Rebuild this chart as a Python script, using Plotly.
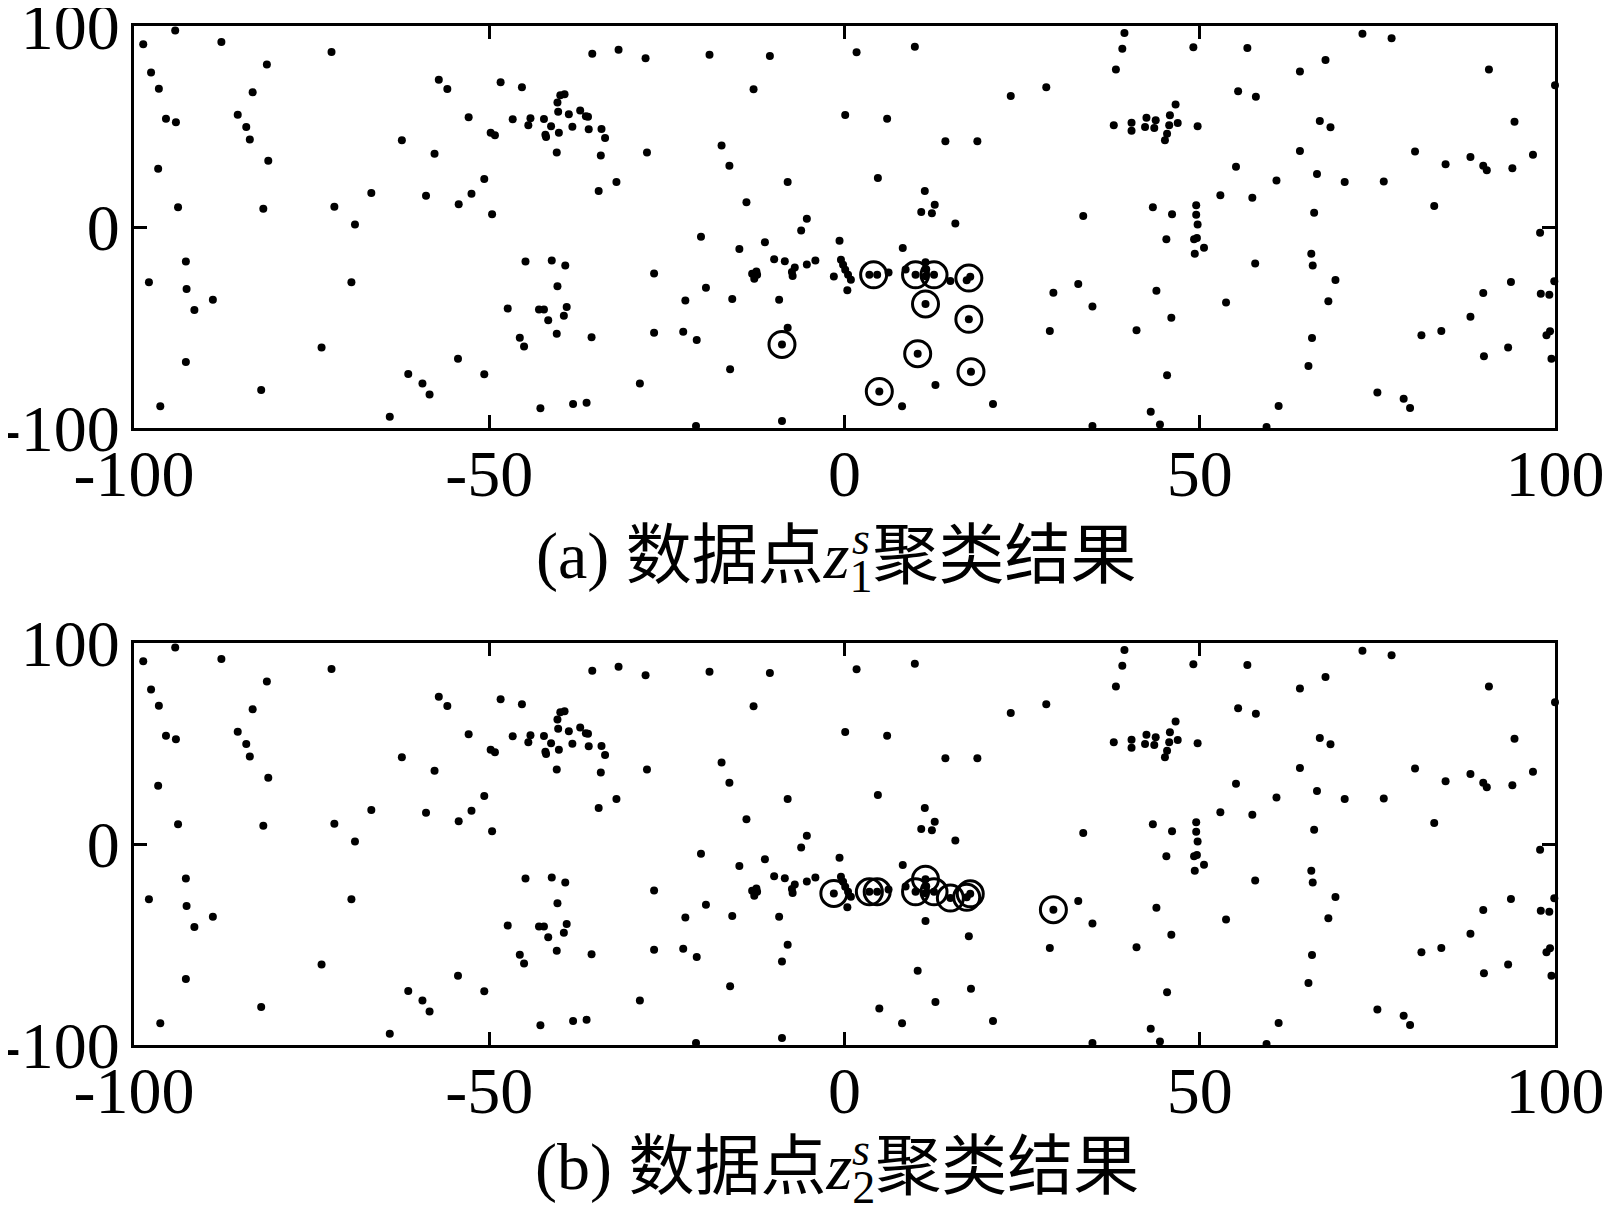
import plotly.graph_objects as go
from plotly.subplots import make_subplots

# ---- data points (same set in both panels) ----
pts_x = [
    -94.2, -98.7, -87.7, -72.2, -97.6, -81.3, -96.5, -83.3, -57.1, -55.9, -95.5, -94.1, -85.4, -84.2, -83.7,
    -62.3, -52.9, -57.7, -96.6, -81.1, -66.6, -58.9, -52.5, -54.3, -93.8, -81.8, -71.8, -68.9, -92.7, -97.9,
    -92.6, -88.9, -91.5, -69.4, -73.6, -92.7, -54.4, -61.4, -59.4, -58.4, -82.1, -96.3, -64.0,
    -50.7, -49.6, -49.8, -49.2, -48.4, -45.4, -35.5, -31.8, -28.0, -19.0, -10.5,
    -40.0, -39.4, -40.4, -40.3, -38.8, -37.2, -36.4, -36.1, -46.7, -44.2, -44.5, -42.3, -41.3, -42.1, -42.0,
    -40.2, -38.3, -36.0, -34.2, -33.7, -40.5, -34.3, -27.8, -32.1, -34.6,
    -12.8, -17.3, -16.2, -8.0, -13.8, -5.3, -6.1, -20.2, -11.2, -14.8, -0.7, -9.9, -8.4, -7.0, -7.4, -7.3,
    -5.3, -4.1, -13.0, -12.4, -12.7, -12.3, -0.5, -0.2, 0.1, 0.5, 0.9, -1.5, 0.4, -26.8, -19.5, -22.4,
    -15.8, -9.2, -44.9, -41.2, -39.3, -40.4, -47.4, -43.0, -42.3, -39.1, -39.5, -41.7, -40.5, -45.7, -45.1,
    -35.6, -26.8, -22.7, -20.8, -8.0, -8.8, -50.7, -16.1, -28.8, -42.8, -38.2, -36.3, -20.9, -8.8,
    1.7, 9.9, 39.4, 39.1, 49.1, 38.2, 28.4, 23.4, 0.1, 6.0, 14.2, 18.7,
    37.9, 40.4, 40.4, 42.5, 42.3, 43.8, 43.6, 45.8, 46.6, 46.9, 45.7, 45.4, 45.1, 49.7,
    4.7, 11.3, 12.7, 12.3, 10.8, 15.6, 33.6, 43.4, 46.1, 49.5, 49.5, 49.7, 45.3, 49.2, 49.6, 49.3, 8.2,
    3.5, 4.6, 6.2, 10.0, 12.6, 11.4, 11.5, 11.4, 8.6, 17.7, 17.2, 14.9, 11.4, 17.5, 10.3, 17.8, 4.9,
    12.8, 8.1, 20.9, 29.4, 32.9, 34.9, 28.9, 41.1, 43.9, 46.0, 45.4, 43.1, 44.4, 34.9,
    72.9, 77.0, 56.7, 67.7, 64.1, 90.7, 100.0, 55.4, 57.9, 66.9, 68.4, 94.3, 64.1, 80.3, 84.6, 88.1, 89.9,
    90.4, 94.0, 96.9, 55.1, 66.5, 60.8, 70.4, 75.9, 52.9, 57.4, 66.1, 83.0, 97.9, 50.6, 57.8, 65.7, 65.9,
    69.1, 68.1, 53.7, 93.8, 89.9, 98.0, 99.2, 99.9, 88.1, 84.0, 81.2, 98.8, 99.3, 93.4, 90.0, 99.5, 65.8,
    65.3, 75.0, 78.7, 79.6, 61.1, 59.4,
]
pts_y = [
    97.8, 90.9, 92.0, 87.1, 76.9, 80.9, 68.8, 67.0, 73.3, 68.7, 53.9, 52.1, 55.9, 49.8, 43.5,
    43.1, 54.6, 36.5, 29.0, 33.0, 16.9, 15.6, 16.6, 11.3, 9.8, 9.1, 10.1, 1.3, -17.2, -27.5,
    -30.8, -36.2, -41.3, -27.5, -59.9, -67.2, -65.5, -73.1, -77.9, -83.3, -81.1, -89.2, -94.4,
    23.9, 6.3, 46.9, 45.6, 72.0, 69.5, 86.2, 88.2, 83.9, 85.7, 85.1,
    65.5, 66.0, 61.9, 57.4, 56.1, 58.0, 55.1, 54.8, 53.6, 54.1, 50.6, 53.7, 50.1, 45.9, 44.8,
    46.9, 49.9, 48.6, 48.8, 44.3, 37.1, 35.6, 37.1, 22.4, 17.9,
    68.5, 40.6, 30.5, 22.4, 12.3, 4.1, -1.8, -4.8, -7.6, -10.9, -6.8, -16.1, -17.1, -20.2, -22.4, -24.4,
    -18.7, -16.7, -23.2, -22.1, -25.7, -23.7, -16.3, -18.8, -21.3, -23.8, -26.3, -24.6, -31.5, -23.1, -30.2, -36.6,
    -35.8, -36.2, -17.2, -16.7, -19.2, -29.5, -40.6, -41.1, -41.0, -39.8, -44.1, -46.4, -53.1, -55.1, -59.4,
    -54.9, -52.6, -52.1, -56.2, -50.1, -58.4, -73.3, -70.8, -77.9, -90.2, -88.1, -87.4, -99.0, -96.5,
    86.9, 89.7, 96.5, 88.7, 89.4, 78.4, 69.5, 65.2, 55.7, 53.9, 42.6, 42.6,
    50.6, 51.9, 47.9, 54.4, 49.8, 53.1, 49.3, 55.6, 60.9, 51.7, 50.6, 46.4, 43.1, 50.1,
    24.4, 17.9, 11.1, 6.8, 7.5, 1.7, 5.5, 9.8, 6.3, 10.8, 6.1, 1.2, -6.1, -6.1, -5.5, -13.3, -10.4,
    -23.8, -23.8, -22.6, -23.8, -23.8, -17.5, -21.0, -24.5, -21.2, -24.8, -26.5, -26.9, -38.3, -45.9, -63.0, -72.0, -81.8,
    -78.6, -89.2, -88.1, -32.7, -28.4, -39.6, -51.7, -51.4, -31.7, -45.1, -73.8, -91.9, -98.3, -99.0,
    96.2, 93.9, 89.1, 83.1, 77.4, 78.3, 70.5, 67.5, 64.8, 52.7, 49.6, 52.4, 37.8, 37.6, 31.2, 34.8, 30.5,
    28.2, 29.2, 36.0, 30.0, 26.4, 23.1, 22.4, 22.6, 15.8, 14.6, 7.1, 10.4, -2.8, -10.3, -18.1, -13.3, -19.1,
    -26.4, -37.0, -37.6, -27.4, -32.8, -33.2, -33.7, -27.0, -44.6, -51.7, -53.9, -53.9, -51.9, -60.0, -64.3, -65.5, -55.2,
    -69.2, -82.4, -85.4, -90.0, -89.1, -99.5,
]

# ---- clustered (circled) points ----
circ1_x = [-8.8, 4.1, 10.0, 12.6, 17.5, 11.4, 17.5, 10.3, 17.8, 4.9]
circ1_y = [-58.4, -23.8, -23.8, -23.8, -25.4, -38.3, -45.9, -63.0, -72.0, -81.8]
circ2_x = [-1.5, 3.5, 4.6, 10.0, 11.4, 12.6, 14.9, 17.2, 17.7, 29.4]
circ2_y = [-24.6, -23.8, -23.8, -23.8, -17.5, -23.8, -26.9, -26.5, -24.8, -32.7]

x_ticks = [-100, -50, 0, 50, 100]
x_tick_text = ["-100", "-50", "0", "50", "100"]
y_ticks = [-100, 0, 100]
y_tick_text = ["-100", "0", "100"]

captions = ["(a) 数据点<i>z</i><sub>1</sub>聚类结果",
            "(b) 数据点<i>z</i><sub>2</sub>聚类结果"]
caption_sup = "<i>s</i>"

FONT = "Liberation Serif, Times New Roman, Noto Sans CJK SC, serif"

fig = make_subplots(rows=2, cols=1, vertical_spacing=0.0)

for r, (cx, cy) in enumerate([(circ1_x, circ1_y), (circ2_x, circ2_y)], start=1):
    fig.add_trace(go.Scatter(x=pts_x, y=pts_y, mode="markers",
                             marker=dict(size=8, color="black"),
                             cliponaxis=False, showlegend=False), row=r, col=1)
    fig.add_trace(go.Scatter(x=cx, y=cy, mode="markers",
                             marker=dict(size=26, symbol="circle-open", color="black",
                                         line=dict(width=3, color="black")),
                             cliponaxis=False, showlegend=False), row=r, col=1)

axis_common = dict(showline=True, linecolor="black", linewidth=3, mirror="ticks",
                   ticks="inside", ticklen=13, tickwidth=3, tickcolor="black",
                   showgrid=False, zeroline=False, automargin=False,
                   ticklabeloverflow="allow",
                   tickfont=dict(family=FONT, size=66, color="black"))

fig.update_xaxes(range=[-100, 100], tickvals=x_ticks, ticktext=x_tick_text,
                 ticklabelstandoff=-14, **axis_common)
fig.update_yaxes(range=[-100, 100], tickvals=y_ticks, ticktext=y_tick_text,
                 ticklabelstandoff=-2, **axis_common)

fig.update_layout(
    width=1598, height=1196,
    margin=dict(l=126, r=51, t=18, b=159),
    paper_bgcolor="white", plot_bgcolor="white",
    xaxis=dict(domain=[0, 1]), yaxis=dict(domain=[0.6055, 1.0]),
    xaxis2=dict(domain=[0, 1]), yaxis2=dict(domain=[0.0, 0.3945]),
)

cap_y = [0.475, -0.1245]
for cap, cy in zip(captions, cap_y):
    fig.add_annotation(text=cap, xref="paper", yref="paper", x=0.4945, y=cy,
                       xanchor="center", yanchor="middle", showarrow=False,
                       font=dict(family=FONT, size=66, color="black"))
    fig.add_annotation(text=caption_sup, xref="paper", yref="paper", x=0.5117, y=cy + 0.022,
                       xanchor="center", yanchor="middle", showarrow=False,
                       font=dict(family=FONT, size=46, color="black"))

fig.write_html("out.html")
